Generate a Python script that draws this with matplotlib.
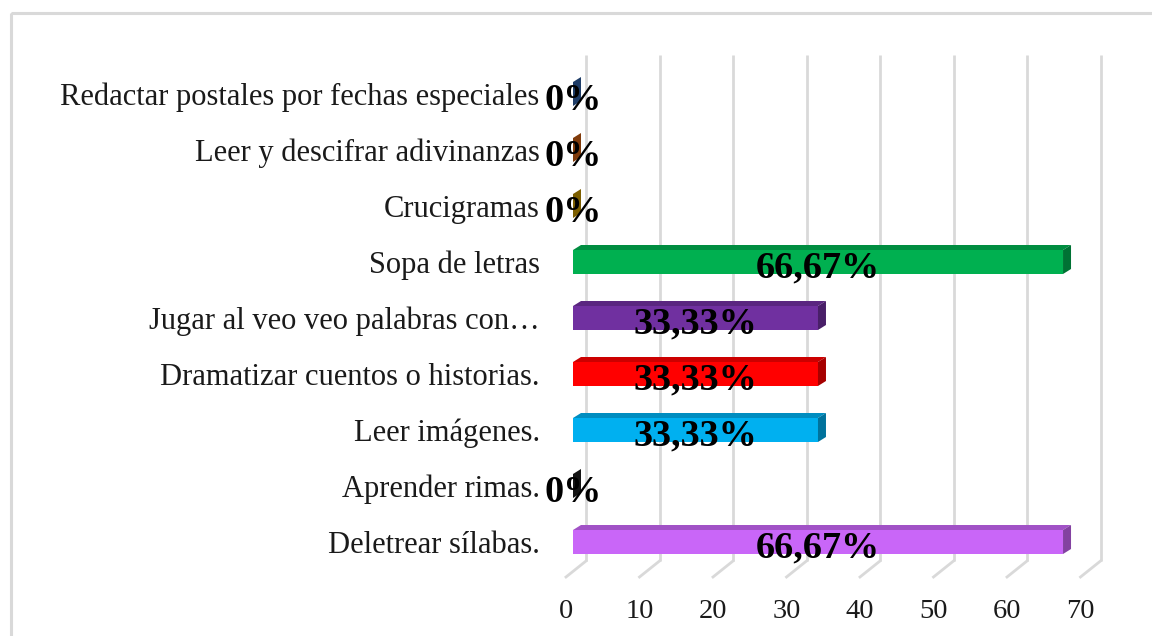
import matplotlib
matplotlib.use("Agg")
import matplotlib.pyplot as plt
from matplotlib.patches import Polygon, Rectangle
from matplotlib.colors import to_rgb

categories = [
    "Deletrear sílabas.",
    "Aprender rimas.",
    "Leer imágenes.",
    "Dramatizar cuentos o historias.",
    "Jugar al veo veo palabras con…",
    "Sopa de letras",
    "Crucigramas",
    "Leer y descifrar adivinanzas",
    "Redactar postales por fechas especiales",
]
values = [66.67, 0, 33.33, 33.33, 33.33, 66.67, 0, 0, 0]
value_labels = ["66,67%", "0%", "33,33%", "33,33%", "33,33%", "66,67%", "0%", "0%", "0%"]
colors = ["#C966F8", "#1F1F1F", "#00B0F0", "#FF0000", "#7030A0",
          "#00B050", "#BF9000", "#C55A11", "#2E5C9E"]
xticks = [0, 10, 20, 30, 40, 50, 60, 70]

W, H = 1152, 636
fig = plt.figure(figsize=(W / 100, H / 100), dpi=100)
fig.patch.set_facecolor("white")

# layout in pixels
px_per_unit = 7.35
x0_px = 573
y_center0 = 542   # bottom category centre (px from top)
y_step = 56
left = x0_px / W
width = px_per_unit * 70 / W
top_px = y_center0 - 8.5 * y_step
bot_px = y_center0 + 0.5 * y_step
ax = fig.add_axes([left, 1 - bot_px / H, width, (bot_px - top_px) / H])
ax.set_xlim(0, 70)
ax.set_ylim(-0.5, 8.5)
for s in ax.spines.values():
    s.set_visible(False)
ax.patch.set_alpha(0)

def ux(px):
    return px / px_per_unit

def uy(px):
    return px / y_step

grid_col = "#D9D9D9"
back_dx = ux(13)
front_dx = ux(-7)
y_grid_top = uy(y_center0 - 55)
y_back_floor = uy(y_center0 - 561)
y_front_floor = uy(y_center0 - 577)
for v in xticks:
    ax.plot([v + back_dx, v + back_dx], [y_back_floor, y_grid_top],
            color=grid_col, lw=2, zorder=1, clip_on=False, solid_capstyle="butt")
    ax.plot([v + back_dx, v + front_dx], [y_back_floor, y_front_floor],
            color=grid_col, lw=2, zorder=1, clip_on=False)
    ax.text(v + front_dx, uy(y_center0 - 612), str(v), ha="center", va="center",
            fontsize=20.5, family="Liberation Serif", color="#1A1A1A")

bh = uy(24)
ddx = ux(8)
ddy = uy(5)

def darker(c, f=0.72):
    r, g, b = to_rgb(c)
    return (r * f, g * f, b * f)

ys = list(range(len(categories)))
for y, v, c in zip(ys, values, colors):
    ax.barh(y, v, height=bh, color=c, zorder=3, edgecolor="none")
    yt = y + bh / 2
    yb = y - bh / 2
    top = Polygon([(0, yt), (v, yt), (v + ddx, yt + ddy), (ddx, yt + ddy)],
                  closed=True, facecolor=darker(c, 0.8), edgecolor="none", zorder=3,
                  clip_on=False)
    side = Polygon([(v, yb), (v, yt), (v + ddx, yt + ddy), (v + ddx, yb + ddy)],
                   closed=True, facecolor=darker(c, 0.65), edgecolor="none", zorder=3,
                   clip_on=False)
    ax.add_patch(top)
    ax.add_patch(side)

for y, v, lab in zip(ys, values, value_labels):
    ax.text(v / 2, y - uy(2), lab, ha="center", va="center_baseline", fontsize=27.5,
            fontweight="bold", family="Liberation Serif", color="black", zorder=5,
            clip_on=False)

ax.set_xticks([])
ax.set_yticks(ys)
ax.set_yticklabels(categories, family="Liberation Serif", fontsize=22, color="#1A1A1A")
ax.tick_params(axis="y", length=0, pad=24)
for lab in ax.get_yticklabels():
    lab.set_verticalalignment("center_baseline")

# chart area border
fig.patches.append(Rectangle((11, H - 13), W + 20, -(H + 20), transform=None,
                             fill=False, edgecolor="#D9D9D9", lw=2.2))
fig.savefig("out.png", dpi=100)
